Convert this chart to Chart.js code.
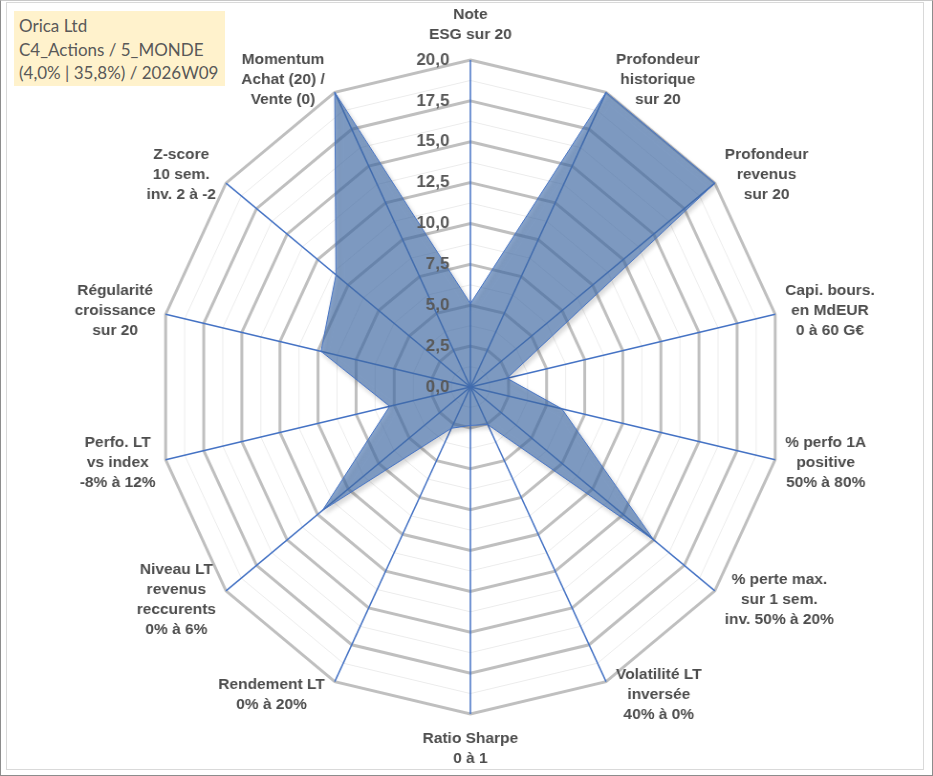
<!DOCTYPE html>
<html>
<head>
<meta charset="utf-8">
<script src="https://cdn.jsdelivr.net/npm/chart.js@4.4.0/dist/chart.umd.min.js"></script>
<style>
  html, body { margin: 0; padding: 0; background: #fff; }
  #frame { position: relative; width: 933px; height: 776px; box-sizing: border-box;
           border: 1px solid #8c8c8c; border-top-color: #c8c8c8; overflow: hidden; }
  #inner { position: absolute; left: 5px; top: 1px; width: 918px; height: 768px;
           border: 1px solid #d9d9d9; box-sizing: border-box; }
  #wrap { position: absolute; left: 0; top: 0; width: 976px; height: 776px;
          transform: scaleX(0.956); transform-origin: 0 0; }
  #radar { width: 976px; height: 776px; }
  #title { position: absolute; left: 13px; top: 10px; width: 202px; height: 68px;
           background: #fff2cc; padding: 3px 4px 4px 5px; color: #595959;
           font: 17px Lato, "Open Sans", sans-serif; line-height: 23.5px; white-space: nowrap; }
</style>
</head>
<body>
<div id="frame">
  <div id="inner"></div>
  <div id="wrap"><canvas id="radar" width="976" height="776"></canvas></div>
  <div id="title">Orica Ltd<br>C4_Actions / 5_MONDE<br>(4,0% | 35,8%) / 2026W09</div>
</div>
<script>
// axes of the radar, clockwise from the top
var axisLabels = [
  ['Note', 'ESG sur 20'],
  ['Profondeur', 'historique', 'sur 20'],
  ['Profondeur', 'revenus', 'sur 20'],
  ['Capi. bours.', 'en MdEUR', '0 à 60 G€'],
  ['% perfo 1A', 'positive', '50% à 80%'],
  ['% perte max.', 'sur 1 sem.', 'inv. 50% à 20%'],
  ['Volatilité LT', 'inversée', '40% à 0%'],
  ['Ratio Sharpe', '0 à 1'],
  ['Rendement LT', '0% à 20%'],
  ['Niveau LT', 'revenus', 'reccurents', '0% à 6%'],
  ['Perfo. LT', 'vs index', '-8% à 12%'],
  ['Régularité', 'croissance', 'sur 20'],
  ['Z-score', '10 sem.', 'inv. 2 à -2'],
  ['Momentum', 'Achat (20) /', 'Vente (0)']
];
var scores = [5.1, 20, 20, 2.4, 6.0, 15.0, 2.55, 2.35, 2.8, 12.1, 5.3, 9.8, 11.0, 20];
var tickValues = [0, 2.5, 5, 7.5, 10, 12.5, 15, 17.5, 20];

var SX = 0.956; // horizontal squash of the original picture

function fmt(v){
  return v.toFixed(1).replace('.', ',');
}

var shadowPlugin = {
  id: 'shadow',
  beforeDatasetsDraw: function(chart){
    var ctx = chart.ctx;
    ctx.save();
    ctx.shadowColor = 'rgba(0,0,0,0.25)';
    ctx.shadowBlur = 5;
    ctx.shadowOffsetX = 2;
    ctx.shadowOffsetY = 3;
  },
  afterDatasetsDraw: function(chart){
    chart.ctx.restore();
  }
};

var textPlugin = {
  id: 'texts',
  afterDraw: function(chart){
    var sc = chart.scales.r;
    var ctx = chart.ctx;
    ctx.save();

    // value ticks, left of the vertical axis
    ctx.font = 'bold 17px "Liberation Sans", Arial, sans-serif';
    ctx.fillStyle = '#595959';
    ctx.textAlign = 'right';
    ctx.textBaseline = 'middle';
    for (var t = 0; t < tickValues.length; t++){
      var ty = sc.yCenter - sc.getDistanceFromCenterForValue(tickValues[t]);
      ctx.save();
      ctx.translate(sc.xCenter - 21 / SX, ty);
      ctx.scale(1 / SX, 1);
      ctx.fillText(fmt(tickValues[t]), 0, 0);
      ctx.restore();
    }

    // axis names
    ctx.font = 'bold 15.5px "Liberation Sans", Arial, sans-serif';
    ctx.fillStyle = '#4d4d4d';
    ctx.textAlign = 'center';
    var lineH = 20;
    for (var i = 0; i < axisLabels.length; i++){
      var lines = axisLabels[i];
      var p = sc.getPointPosition(i, sc.drawingArea);
      var dx = Math.cos(p.angle), dy = Math.sin(p.angle);
      var w = 0;
      for (var k = 0; k < lines.length; k++){
        w = Math.max(w, ctx.measureText(lines[k]).width);
      }
      var h = lines.length * lineH;
      var cx, cy;
      if (Math.abs(dx) < 0.05){
        cx = p.x;
        cy = dy < 0 ? p.y - 15 - h / 2 : p.y + 15 + h / 2;
      } else {
        var sgn = dx > 0 ? 1 : -1;
        cx = p.x + sgn * (10 + w / 2) / SX;
        cy = p.y + 14 * dy;
      }
      for (var j = 0; j < lines.length; j++){
        ctx.save();
        ctx.translate(cx, cy - h / 2 + lineH / 2 + j * lineH);
        ctx.scale(1 / SX, 1);
        ctx.fillText(lines[j], 0, 0);
        ctx.restore();
      }
    }
    ctx.restore();
  }
};

var config = {
  type: 'radar',
  data: {
    labels: axisLabels,
    datasets: [{
      label: 'Orica Ltd',
      data: scores,
      backgroundColor: 'rgba(70, 115, 178, 0.62)',
      borderColor: '#4472c4',
      borderWidth: 1,
      pointRadius: 0,
      pointHoverRadius: 0,
      fill: true
    }]
  },
  options: {
    responsive: false,
    devicePixelRatio: 1,
    animation: false,
    layout: { padding: { left: 164, right: 158, top: 59, bottom: 63 } },
    plugins: {
      legend: { display: false },
      tooltip: { enabled: false }
    },
    scales: {
      r: {
        min: 0,
        max: 20,
        ticks: { stepSize: 1.25, display: false },
        pointLabels: { display: false },
        grid: {
          color: function(c){ return (c.tick && c.tick.value % 2.5 === 0) ? '#bfbfbf' : '#ececec'; },
          lineWidth: function(c){ return (c.tick && c.tick.value % 2.5 === 0) ? 3 : 1; }
        },
        angleLines: { color: '#4472c4', lineWidth: 1.5 }
      }
    }
  },
  plugins: [shadowPlugin, textPlugin]
};

var radarChart = new Chart(document.getElementById('radar').getContext('2d'), config);
</script>
</body>
</html>
